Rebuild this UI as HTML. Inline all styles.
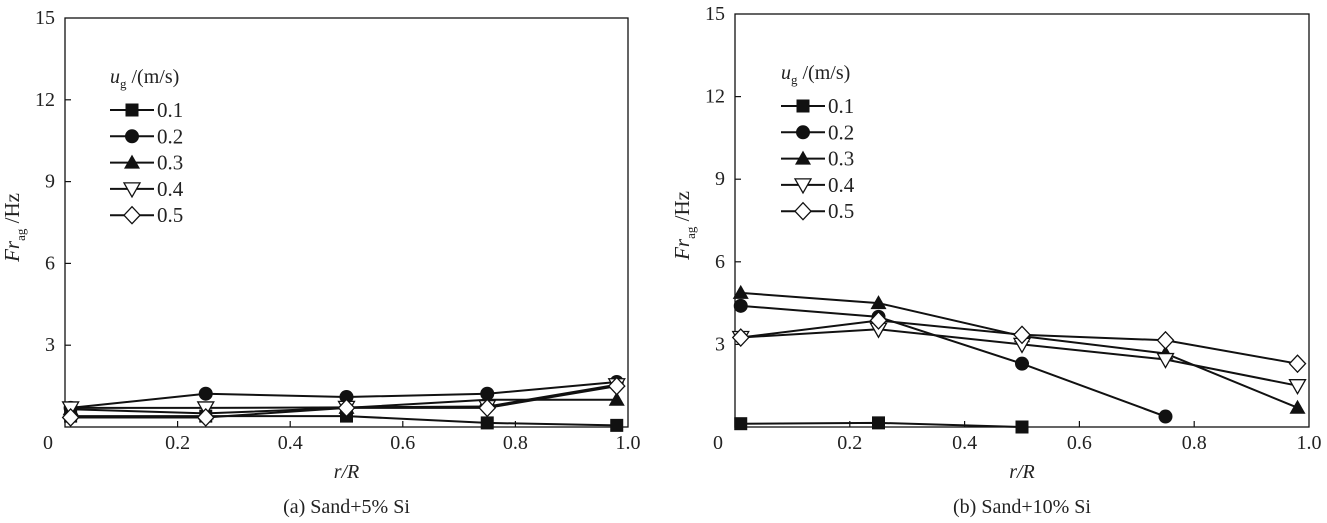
<!DOCTYPE html>
<html><head><meta charset="utf-8"><style>
html,body{margin:0;padding:0;background:#fff;}
svg{display:block;}
svg text{font-family:"Liberation Serif","DejaVu Serif",serif;}
</style></head><body>
<svg id="chart" width="1327" height="523" font-family="Liberation Serif, serif"></svg>
<script>
const categories = [0.01, 0.25, 0.5, 0.75, 0.98];
const seriesNames = ["0.1", "0.2", "0.3", "0.4", "0.5"];
const xTicks = [0, 0.2, 0.4, 0.6, 0.8, 1.0];
const xTickLabels = ["0", "0.2", "0.4", "0.6", "0.8", "1.0"];
const yTicks = [0, 3, 6, 9, 12, 15];
const yTickLabels = ["", "3", "6", "9", "12", "15"];
const a_s01 = [0.4, 0.4, 0.4, 0.15, 0.06];
const a_s02 = [0.7, 1.22, 1.1, 1.22, 1.65];
const a_s03 = [0.65, 0.5, 0.7, 1.0, 1.0];
const a_s04 = [0.7, 0.7, 0.72, 0.75, 1.55];
const a_s05 = [0.35, 0.35, 0.7, 0.7, 1.5];
const b_s01 = [0.12, 0.15, 0.0];
const b_s02 = [4.4, 4.0, 2.3, 0.38];
const b_s03 = [4.87, 4.5, 3.3, 2.67, 0.7];
const b_s04 = [3.25, 3.55, 3.0, 2.45, 1.5];
const b_s05 = [3.25, 3.87, 3.35, 3.15, 2.3];

const NS="http://www.w3.org/2000/svg";
const svg=document.getElementById('chart');
const FF='Liberation Serif, serif';
function mk(tag,attrs,parent){const e=document.createElementNS(NS,tag);for(const k in attrs)e.setAttribute(k,attrs[k]);if(tag==='text')e.setAttribute('font-family',FF);(parent||svg).appendChild(e);return e;}
function marker(g,kind,x,y){
  let e;
  if(kind===0){e=mk('rect',{x:x-6.5,y:y-6.5,width:13,height:13,fill:'#111'},g);}
  else if(kind===1){e=mk('circle',{cx:x,cy:y,r:7,fill:'#111'},g);}
  else if(kind===2){e=mk('polygon',{points:`${x},${y-8} ${x+8},${y+6} ${x-8},${y+6}`,fill:'#111'},g);}
  else if(kind===3){e=mk('polygon',{points:`${x-8},${y-6} ${x+8},${y-6} ${x},${y+8}`,fill:'#fff',stroke:'#111','stroke-width':1.3},g);}
  else {e=mk('polygon',{points:`${x},${y-8.5} ${x+8},${y} ${x},${y+8.5} ${x-8},${y}`,fill:'#fff',stroke:'#111','stroke-width':1.3},g);}
  
  
}
function panel(id,L,R,T,B,series,legX,legY,legTitleY,caption){
  const g=mk('g',{});
  
  
  const xs=v=>L+(R-L)*v, ys=v=>B-(B-T)*v/15;
  const frame=mk('rect',{x:L,y:T,width:R-L,height:B-T,fill:'none',stroke:'#111','stroke-width':1.3},g);
  
  
  xTicks.forEach((t,i)=>{
    if(i>0&&i<xTicks.length-1){mk('line',{x1:xs(t),x2:xs(t),y1:B,y2:B-6,stroke:'#111','stroke-width':1.2},g);}
    const tx=mk('text',{x:xs(t)+(i===0?-17:0),y:B+22,'text-anchor':'middle','font-size':20,fill:'#222'},g);
    tx.textContent=xTickLabels[i];
    
    
  });
  yTicks.forEach((t,i)=>{
    if(i>0&&i<yTicks.length-1){mk('line',{x1:L,x2:L+6,y1:ys(t),y2:ys(t),stroke:'#111','stroke-width':1.2},g);}
    const tx=mk('text',{x:L-10,y:ys(t)+6,'text-anchor':'end','font-size':20,fill:'#222'},g);
    tx.textContent=yTickLabels[i];
    
    
  });
  series.forEach((vals,k)=>{
    const pts=vals.map((v,i)=>`${xs(categories[i])},${ys(v)}`).join(' ');
    const pl=mk('polyline',{points:pts,fill:'none',stroke:'#111','stroke-width':2},g);
    
    
  });
  series.forEach((vals,k)=>{vals.forEach((v,i)=>marker(g,k,xs(categories[i]),ys(v)));});
  const lt=mk('text',{x:legX,y:legTitleY,'font-size':20,fill:'#222'},g);
  lt.innerHTML='<tspan font-style="italic">u</tspan><tspan font-size="13" dy="5">g</tspan><tspan dy="-5"> /(m/s)</tspan>';
  
  
  seriesNames.forEach((n,k)=>{
    const y=legY+k*26.3;
    const le=mk('g',{},g);
    
    
    mk('line',{x1:legX,x2:legX+44,y1:y,y2:y,stroke:'#111','stroke-width':2},le);
    marker(le,k,legX+22,y);
    const t=mk('text',{x:legX+47,y:y+7,'font-size':21,fill:'#222'},le);
    t.textContent=n;
  });
  const yl=mk('text',{transform:`translate(${L-46},${(T+B)/2+5}) rotate(-90)`,'text-anchor':'middle','font-size':21,fill:'#222'},g);
  yl.innerHTML='<tspan font-style="italic">Fr</tspan><tspan font-size="13" dy="6">ag</tspan><tspan dy="-6"> /Hz</tspan>';
  
  
  const xl=mk('text',{x:(L+R)/2,y:B+51,'text-anchor':'middle','font-size':20,'font-style':'italic',fill:'#222'},g);
  xl.textContent='r/R';
  
  
  const cp=mk('text',{x:(L+R)/2,y:B+86,'text-anchor':'middle','font-size':20,fill:'#222'},g);
  cp.textContent=caption;
  
  
}
panel('a',65,628,18,427,[a_s01,a_s02,a_s03,a_s04,a_s05],110,110,83,'(a) Sand+5% Si');
panel('b',735,1309,14,427,[b_s01,b_s02,b_s03,b_s04,b_s05],781,106,79,'(b) Sand+10% Si');
</script>
</body></html>
